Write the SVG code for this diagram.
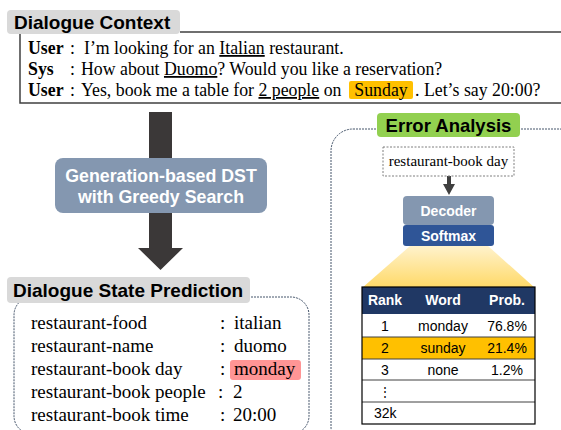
<svg xmlns="http://www.w3.org/2000/svg" width="561" height="430" viewBox="0 0 561 430">
  <defs>
    <linearGradient id="beam" x1="0" y1="0" x2="0" y2="1">
      <stop offset="0" stop-color="#fff2cc"/>
      <stop offset="1" stop-color="#ffd966"/>
    </linearGradient>
    <style>
      .title { font-family: "Liberation Sans", Arial, sans-serif; font-weight: bold; font-size: 19px; fill: #000; }
      .tag { fill: #d9d9d9; }
      .serif { font-family: "Liberation Serif", "Times New Roman", serif; fill: #000; }
      .dlg { font-size: 17.8px; }
      .state { font-size: 19px; }
      .spk { font-weight: bold; }
      .ul { text-decoration: underline; }
      .wlabel { font-family: "Liberation Sans", Arial, sans-serif; font-weight: bold; fill: #fff; text-anchor: middle; }
      .frame { fill: none; stroke: #44546a; stroke-width: 1; stroke-dasharray: 2 1; }
      .cell { font-family: "Liberation Sans", Arial, sans-serif; font-size: 14px; fill: #000; text-anchor: middle; }
      .cell.left { text-anchor: start; }
      .rowline { stroke: #404040; stroke-width: 1; }
    </style>
  </defs>

  <rect width="561" height="430" fill="#fff"/>

  <!-- Dialogue context panel -->
  <g id="dialogue-context">
    <path d="M180,32 H561 M20,33 V103 H561" fill="none" stroke="#404040" stroke-width="1.5"/>
    <rect class="tag" x="7" y="10" width="173" height="24" rx="4"/>
    <text class="title" x="14" y="29">Dialogue Context</text>
    <g class="serif dlg">
      <text x="28" y="54"><tspan class="spk">User</tspan></text>
      <text x="70" y="54">:</text>
      <text x="84" y="54">I’m looking for an <tspan class="ul">Italian</tspan> restaurant.</text>

      <text x="28" y="75"><tspan class="spk">Sys</tspan></text>
      <text x="70" y="75">:</text>
      <text x="81" y="75">How about <tspan class="ul">Duomo</tspan>? Would you like a reservation?</text>

      <text x="28" y="96"><tspan class="spk">User</tspan></text>
      <text x="70" y="96">:</text>
      <text x="81" y="96">Yes, book me a table for <tspan class="ul">2 people</tspan> on</text>
      <rect x="349" y="81" width="64" height="18" rx="2" fill="#ffc000"/>
      <text x="381" y="96" text-anchor="middle">Sunday</text>
      <text x="415" y="96">. Let’s say 20:00?</text>
    </g>
  </g>

  <!-- Connectors -->
  <g id="connectors">
    <path d="M149,112 H172 V248 H183 L160.5,270 L138,248 H149 Z" fill="#3b3838"/>
    <path d="M447,176 H451 V184 H455 L449,195 L443,184 H447 Z" fill="#404040"/>
  </g>

  <!-- Tracker model -->
  <g id="dst-model">
    <rect x="55" y="158" width="212" height="55" rx="8" fill="#8497b0"/>
    <text class="wlabel" x="161" y="182" font-size="17.8">Generation-based DST</text>
    <text class="wlabel" x="161" y="203" font-size="17.8">with Greedy Search</text>
  </g>

  <!-- Predicted dialogue state -->
  <g id="state-prediction">
    <rect class="frame" x="14" y="297" width="295" height="137" rx="18"/>
    <rect class="tag" x="7" y="277" width="243" height="26" rx="4"/>
    <text class="title" x="13" y="297">Dialogue State Prediction</text>
    <rect x="230" y="360" width="71" height="20" rx="3" fill="#ff9595"/>
    <g class="serif state">
      <text x="31" y="329">restaurant-food</text>
      <text x="31" y="352">restaurant-name</text>
      <text x="31" y="375">restaurant-book day</text>
      <text x="31" y="398">restaurant-book people</text>
      <text x="31" y="421">restaurant-book time</text>
      <text x="220" y="329">:</text>
      <text x="220" y="352">:</text>
      <text x="220" y="375">:</text>
      <text x="218" y="398">:</text>
      <text x="220" y="421">:</text>
      <text x="234" y="329">italian</text>
      <text x="234" y="352">duomo</text>
      <text x="234" y="375">monday</text>
      <text x="233" y="398">2</text>
      <text x="233" y="421">20:00</text>
    </g>
  </g>

  <!-- Error analysis panel -->
  <g id="error-analysis">
    <rect class="frame" x="331" y="129" width="250" height="320" rx="22"/>
    <rect x="377" y="113" width="143" height="24" rx="4" fill="#92d050"/>
    <text class="title" x="448.5" y="132" text-anchor="middle" style="font-size:18.5px">Error Analysis</text>
  </g>

  <g id="slot-query">
    <rect x="383" y="147" width="131" height="29" fill="#fff" stroke="#7f7f7f" stroke-width="1" stroke-dasharray="2 1.5"/>
    <text class="serif" x="448.5" y="166" font-size="15" text-anchor="middle">restaurant-book day</text>
  </g>

  <g id="decoder">
    <rect x="403" y="196" width="91" height="29" rx="4" fill="#8497b0"/>
    <text class="wlabel" x="448.5" y="216" font-size="14">Decoder</text>
  </g>

  <g id="softmax">
    <rect x="403" y="225" width="91" height="21" rx="3" fill="#2f5597"/>
    <text class="wlabel" x="448.5" y="241" font-size="14">Softmax</text>
  </g>

  <g id="ranking-table">
    <polygon points="410,246 488,246 535,288 362,288" fill="url(#beam)"/>
    <rect x="362" y="287" width="173" height="27" fill="#203864"/>
    <rect x="362" y="337" width="173" height="22" fill="#ffc000"/>
    <line class="rowline" x1="362" y1="337" x2="535" y2="337"/>
    <line class="rowline" x1="362" y1="359" x2="535" y2="359"/>
    <line class="rowline" x1="362" y1="380" x2="535" y2="380"/>
    <line class="rowline" x1="362" y1="402" x2="535" y2="402"/>
    <rect x="362" y="287" width="173" height="137" fill="none" stroke="#000" stroke-width="1.2"/>
    <text class="wlabel" x="385" y="305" font-size="14">Rank</text>
    <text class="wlabel" x="443" y="305" font-size="14">Word</text>
    <text class="wlabel" x="507" y="305" font-size="14">Prob.</text>
    <text class="cell" x="385" y="331">1</text>
    <text class="cell" x="443" y="331">monday</text>
    <text class="cell" x="507" y="331">76.8%</text>
    <text class="cell" x="385" y="353">2</text>
    <text class="cell" x="443" y="353">sunday</text>
    <text class="cell" x="507" y="353">21.4%</text>
    <text class="cell" x="385" y="374.5">3</text>
    <text class="cell" x="443" y="374.5">none</text>
    <text class="cell" x="507" y="374.5">1.2%</text>
    <text class="cell" x="385" y="396" style="font-size:12px">⋮</text>
    <text class="cell left" x="374" y="418">32k</text>
  </g>
</svg>
